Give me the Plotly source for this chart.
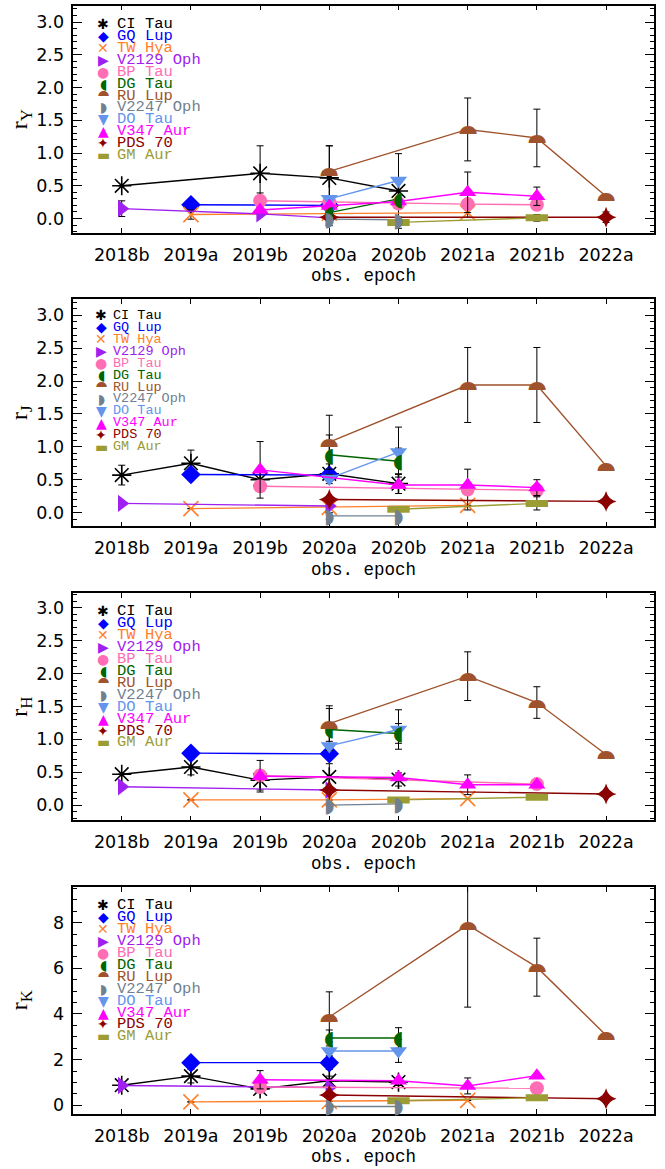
import plotly.graph_objects as go

# ---------------- data ----------------
epochs = ["2018b", "2019a", "2019b", "2020a", "2020b", "2021a", "2021b", "2022a"]
stars = ["CI Tau", "GQ Lup", "TW Hya", "V2129 Oph", "BP Tau", "DG Tau",
         "RU Lup", "V2247 Oph", "DO Tau", "V347 Aur", "PDS 70", "GM Aur"]
N = None

# r_Y
rY_CI_Tau = [0.50, N, 0.69, 0.62, 0.42, N, N, N]
rY_GQ_Lup = [N, 0.21, N, 0.20, N, N, N, N]
rY_TW_Hya = [N, 0.06, N, 0.08, N, 0.09, N, N]
rY_V2129_Oph = [0.15, N, 0.07, 0.01, N, N, N, N]
rY_BP_Tau = [N, N, 0.27, 0.25, 0.23, 0.22, 0.21, N]
rY_DG_Tau = [N, N, N, 0.09, 0.30, N, N, N]
rY_RU_Lup = [N, N, N, 0.72, N, 1.36, 1.23, 0.34]
rY_V2247_Oph = [N, N, N, -0.01, -0.02, N, N, N]
rY_DO_Tau = [N, N, N, 0.30, 0.58, N, N, N]
rY_V347_Aur = [N, N, 0.13, 0.19, 0.26, 0.40, 0.34, N]
rY_PDS_70 = [N, N, N, 0.02, N, N, N, 0.02]
rY_GM_Aur = [N, N, N, N, -0.06, N, 0.01, N]
eY_CI_Tau = [N, N, 0.42, 0.49, 0.57, N, N, N]
eY_GQ_Lup = [N, 0.05, N, N, N, N, N, N]
eY_TW_Hya = [N, 0.07, N, 0.05, N, 0.07, N, N]
eY_V2129_Oph = [0.12, N, N, N, N, N, N, N]
eY_BP_Tau = [N, N, 0.12, N, N, N, N, N]
eY_DG_Tau = [N, N, N, N, N, N, N, N]
eY_RU_Lup = [N, N, N, 0.39, N, 0.48, 0.44, N]
eY_V2247_Oph = [N, N, N, 0.10, 0.04, N, N, N]
eY_DO_Tau = [N, N, N, N, N, N, N, N]
eY_V347_Aur = [N, N, N, N, N, 0.31, 0.14, N]
eY_PDS_70 = [N, N, N, 0.05, N, N, N, 0.08]
eY_GM_Aur = [N, N, N, N, 0.02, N, 0.05, N]

# r_J
rJ_CI_Tau = [0.57, 0.75, 0.50, 0.59, 0.44, N, N, N]
rJ_GQ_Lup = [N, 0.58, N, 0.57, N, N, N, N]
rJ_TW_Hya = [N, 0.06, N, 0.08, N, 0.11, N, N]
rJ_V2129_Oph = [0.14, N, N, 0.10, N, N, N, N]
rJ_BP_Tau = [N, N, 0.40, N, N, 0.35, 0.34, N]
rJ_DG_Tau = [N, N, N, 0.88, 0.78, N, N, N]
rJ_RU_Lup = [N, N, N, 1.07, N, 1.94, 1.94, 0.71]
rJ_V2247_Oph = [N, N, N, -0.05, -0.05, N, N, N]
rJ_DO_Tau = [N, N, N, 0.52, 0.92, N, N, N]
rJ_V347_Aur = [N, N, 0.65, N, 0.42, 0.42, 0.38, N]
rJ_PDS_70 = [N, N, N, 0.20, N, N, N, 0.17]
rJ_GM_Aur = [N, N, N, N, 0.05, N, 0.14, N]
eJ_CI_Tau = [0.15, 0.20, N, 0.15, 0.15, N, N, N]
eJ_GQ_Lup = [N, N, N, N, N, N, N, N]
eJ_TW_Hya = [N, N, N, N, N, N, N, N]
eJ_V2129_Oph = [N, N, N, N, N, N, N, N]
eJ_BP_Tau = [N, N, N, N, N, 0.31, N, N]
eJ_DG_Tau = [N, N, N, 0.30, 0.20, N, N, N]
eJ_RU_Lup = [N, N, N, 0.41, N, 0.57, 0.57, N]
eJ_V2247_Oph = [N, N, N, 0.05, N, N, N, N]
eJ_DO_Tau = [N, N, N, N, 0.38, N, N, N]
eJ_V347_Aur = [N, N, 0.43, N, N, N, 0.12, N]
eJ_PDS_70 = [N, N, N, N, N, N, N, N]
eJ_GM_Aur = [N, N, N, N, N, N, 0.10, N]

# r_H
rH_CI_Tau = [0.47, 0.58, 0.38, 0.43, 0.39, N, N, N]
rH_GQ_Lup = [N, 0.79, N, 0.78, N, N, N, N]
rH_TW_Hya = [N, 0.08, N, 0.08, N, 0.10, N, N]
rH_V2129_Oph = [0.28, N, N, 0.23, N, N, N, N]
rH_BP_Tau = [N, N, 0.45, N, N, N, 0.32, N]
rH_DG_Tau = [N, N, N, 1.15, 1.09, N, N, N]
rH_RU_Lup = [N, N, N, 1.24, N, 1.96, 1.56, 0.77]
rH_V2247_Oph = [N, N, N, 0.00, 0.02, N, N, N]
rH_DO_Tau = [N, N, N, 0.90, 1.15, N, N, N]
rH_V347_Aur = [N, N, 0.44, N, 0.42, 0.31, 0.31, N]
rH_PDS_70 = [N, N, N, 0.23, N, N, N, 0.17]
rH_GM_Aur = [N, N, N, N, 0.08, N, 0.12, N]
eH_CI_Tau = [N, 0.12, 0.15, 0.20, 0.10, N, N, N]
eH_GQ_Lup = [N, N, N, N, N, N, N, N]
eH_TW_Hya = [N, N, N, N, N, N, N, N]
eH_V2129_Oph = [N, N, N, N, N, N, N, N]
eH_BP_Tau = [N, N, N, N, N, N, N, N]
eH_DG_Tau = [N, N, N, 0.32, 0.15, N, N, N]
eH_RU_Lup = [N, N, N, 0.27, N, 0.37, 0.24, N]
eH_V2247_Oph = [N, N, N, N, N, N, N, N]
eH_DO_Tau = [N, N, N, N, 0.30, N, N, N]
eH_V347_Aur = [N, N, 0.24, N, N, 0.15, N, N]
eH_PDS_70 = [N, N, N, N, N, N, N, N]
eH_GM_Aur = [N, N, N, N, N, N, N, N]

# r_K
rK_CI_Tau = [0.88, 1.28, 0.72, 1.08, 1.02, N, N, N]
rK_GQ_Lup = [N, 1.87, N, 1.87, N, N, N, N]
rK_TW_Hya = [N, 0.15, N, 0.17, N, 0.22, N, N]
rK_V2129_Oph = [0.87, N, N, 0.78, N, N, N, N]
rK_BP_Tau = [N, N, 0.80, N, N, N, 0.75, N]
rK_DG_Tau = [N, N, N, 2.95, 2.95, N, N, N]
rK_RU_Lup = [N, N, N, 3.87, N, 7.90, 6.05, 3.07]
rK_V2247_Oph = [N, N, N, -0.05, -0.05, N, N, N]
rK_DO_Tau = [N, N, N, 2.38, 2.38, N, N, N]
rK_V347_Aur = [N, N, 1.12, N, 1.08, 0.85, 1.30, N]
rK_PDS_70 = [N, N, N, 0.45, N, N, N, 0.29]
rK_GM_Aur = [N, N, N, N, 0.20, N, 0.33, N]
eK_CI_Tau = [N, 0.30, 0.15, 0.20, 0.15, N, N, N]
eK_GQ_Lup = [N, N, N, 0.30, N, N, N, N]
eK_TW_Hya = [N, N, N, N, N, N, N, N]
eK_V2129_Oph = [N, N, N, N, N, N, N, N]
eK_BP_Tau = [N, N, N, N, N, N, N, N]
eK_DG_Tau = [N, N, N, 0.35, 0.45, N, N, N]
eK_RU_Lup = [N, N, N, 1.10, N, 3.60, 1.27, N]
eK_V2247_Oph = [N, N, N, N, N, N, N, N]
eK_DO_Tau = [N, N, N, N, 0.50, N, N, N]
eK_V347_Aur = [N, N, 0.40, N, N, 0.35, N, N]
eK_PDS_70 = [N, N, N, N, N, N, N, N]
eK_GM_Aur = [N, N, N, N, N, N, N, N]

bands = ["Y", "J", "H", "K"]
G = globals()


def band_series(b, s):
    key = s.replace(" ", "_")
    return G["r%s_%s" % (b, key)], G["e%s_%s" % (b, key)]


# ---------------- styles ----------------
colors = {"CI Tau": "#000000", "GQ Lup": "#0000FF", "TW Hya": "#FF7F2A",
          "V2129 Oph": "#A020F0", "BP Tau": "#FF6EB4", "DG Tau": "#006400",
          "RU Lup": "#A0522D", "V2247 Oph": "#708090", "DO Tau": "#6495ED",
          "V347 Aur": "#FF00FF", "PDS 70": "#8B0000", "GM Aur": "#9C9C34"}
# symbol, size, outline width
symbols = {"CI Tau": ("asterisk-open", 16, 1.6), "GQ Lup": ("diamond", 15, 0),
           "TW Hya": ("x-thin-open", 15, 1.6),
           "V2129 Oph": ("triangle-right", 15, 0),
           "BP Tau": ("circle", 14, 0), "DO Tau": ("triangle-down", 15, 0),
           "V347 Aur": ("triangle-up", 15, 0),
           "PDS 70": ("star-diamond", 15, 0),
           "GM Aur": ("line-ew-open", 16, 7)}
# half-disc markers drawn as glyphs: glyph, font size, yshift(px)
glyph_marks = {"DG Tau": ("\u25D6", 20, 0),
               "RU Lup": ("\u2BCA", 23, -5),
               "V2247 Oph": ("\u25D7", 20, 0)}
legend_glyph = {"CI Tau": "\u2731", "GQ Lup": "\u25C6", "TW Hya": "\u2715",
                "V2129 Oph": "\u25B6", "BP Tau": "\u25CF", "DG Tau": "\u25D6",
                "RU Lup": "\u2BCA", "V2247 Oph": "\u25D7", "DO Tau": "\u25BC",
                "V347 Aur": "\u25B2", "PDS 70": "\u2726", "GM Aur": "\u25AC"}

W, H = 665, 1169
X0, X1 = 73.3, 653.8
tops = [5.7, 300.0, 594.3, 888.3]
bots = [233.3, 527.3, 821.7, 1115.7]
yranges = [[-0.22, 3.25], [-0.21, 3.24], [-0.23, 3.22], [-0.37, 9.57]]
ydticks = [0.5, 0.5, 0.5, 2]
yminor = [0.1, 0.1, 0.1, 0.5]
leg_first = [18.3, 16.0, 18.0, 18.4]
leg_text_x = [115, 111, 115, 115]
leg_glyph_x = [103, 101, 103, 103]
leg_font = [15.5, 13.5, 15.5, 15.5]
LEG_STEP = 11.95


def fx(px):
    return px / W


def fy(py):
    return 1 - py / H


fig = go.Figure()
annotations = []
mono = "Liberation Mono, Courier New, monospace"
sans = "DejaVu Sans, Arial, sans-serif"

for i, b in enumerate(bands):
    n = "" if i == 0 else str(i + 1)
    xa, ya = "x" + n, "y" + n
    for s in stars:
        vals, errs = band_series(b, s)
        idx = [k for k, v in enumerate(vals) if v is not None]
        xs = idx
        ys = [vals[k] for k in idx]
        es = [errs[k] for k in idx]
        c = colors[s]
        if s in symbols:
            sym, sz, lw = symbols[s]
            marker = dict(symbol=sym, size=sz, color=c,
                          line=dict(color=c, width=lw))
            mode = "lines+markers"
        else:
            marker = None
            mode = "lines"
        fig.add_trace(go.Scatter(
            x=xs, y=ys, mode=mode, line=dict(color=c, width=1.4),
            marker=marker,
            error_y=dict(type="data", array=es, visible=True, color="black",
                         thickness=1, width=3.5),
            xaxis=xa, yaxis=ya, showlegend=False, name=s))
        if s in glyph_marks:
            g, gs, dy = glyph_marks[s]
            for xv, yv in zip(xs, ys):
                annotations.append(dict(
                    x=xv, y=yv, xref=xa, yref=ya, text=g, showarrow=False,
                    font=dict(family=sans, size=gs, color=c),
                    xanchor="center", yanchor="middle", yshift=dy))

    fig.layout["xaxis" + n] = dict(
        domain=[fx(X0), fx(X1)], anchor=ya, range=[-0.70, 7.69],
        tickmode="array", tickvals=list(range(len(epochs))), ticktext=epochs,
        ticks="inside", ticklen=5, tickwidth=1, tickcolor="black",
        mirror="ticks", showline=True, linecolor="black", linewidth=1.5,
        showgrid=False, zeroline=False,
        tickfont=dict(family=sans, size=17.5, color="black"),
        ticklabelstandoff=5)
    fig.layout["yaxis" + n] = dict(
        domain=[fy(bots[i]), fy(tops[i])], anchor=xa, range=yranges[i],
        dtick=ydticks[i], tick0=0, tickformat=".1f" if i < 3 else "d",
        ticks="inside", ticklen=9, tickwidth=1, tickcolor="black",
        minor=dict(ticks="inside", ticklen=4, dtick=yminor[i], tick0=0,
                   tickcolor="black"),
        mirror="ticks", showline=True, linecolor="black", linewidth=1.5,
        showgrid=False, zeroline=False,
        tickfont=dict(family=sans, size=17.5, color="black"),
        ticklabelstandoff=4)

    # axis titles
    annotations.append(dict(
        x=fx(21), y=fy((tops[i] + bots[i]) / 2), xref="paper", yref="paper",
        text="r<sub>%s</sub>" % b, textangle=-90, showarrow=False,
        font=dict(family="Liberation Serif, serif", size=24, color="black"),
        xanchor="center", yanchor="middle"))
    annotations.append(dict(
        x=fx((X0 + X1) / 2), y=fy(bots[i] + 43.5), xref="paper", yref="paper",
        text="obs. epoch", showarrow=False,
        font=dict(family=mono, size=17.5, color="black"),
        xanchor="center", yanchor="middle"))

    # legend
    for j, s in enumerate(stars):
        ypx = tops[i] + leg_first[i] + j * LEG_STEP
        annotations.append(dict(
            x=fx(leg_glyph_x[i]), y=fy(ypx), xref="paper", yref="paper",
            text=legend_glyph[s], showarrow=False,
            font=dict(family=sans, size=14, color=colors[s]),
            xanchor="center", yanchor="middle"))
        annotations.append(dict(
            x=fx(leg_text_x[i]), y=fy(ypx), xref="paper", yref="paper",
            text=s, showarrow=False,
            font=dict(family=mono, size=leg_font[i], color=colors[s]),
            xanchor="left", yanchor="middle"))

fig.update_layout(
    width=W, height=H, margin=dict(l=0, r=0, t=0, b=0),
    paper_bgcolor="white", plot_bgcolor="white",
    annotations=annotations, showlegend=False)

fig.write_html("out.html")
